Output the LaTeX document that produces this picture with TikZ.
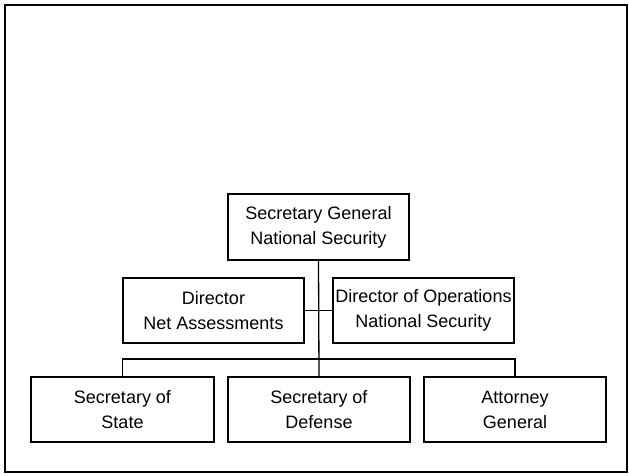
\documentclass[tikz,border=0pt]{standalone}
\usepackage{fontspec}
\setmainfont{Liberation Sans}
\begin{document}
\begin{tikzpicture}[x=1pt,y=-1pt,
  box/.style={draw=black,line width=1.2pt,minimum height=0pt,inner sep=0pt,align=center,
    font=\fontsize{18}{25}\selectfont},
  link/.style={draw=black,line width=1.3pt}]
\useasboundingbox (0,0) rectangle (629,475);
\draw[line width=2pt] (5,5) rectangle (627,472);
% boxes (drawn as rectangles with nodes inside)
\node[box,minimum width=181pt,minimum height=66pt] (sg) at (318.5,227) {Secretary General\\National Security};
\node[box,minimum width=181pt,minimum height=65pt] (dn) at (213.5,310.5) {Director\\Net Assessments};
\node[box,minimum width=181pt,minimum height=65pt] (do) at (423.5,310.5) {Director of Operations\\National Security};
\node[box,minimum width=183pt,minimum height=65pt] (ss) at (122.5,409.5) {Secretary of\\State};
\node[box,minimum width=182pt,minimum height=65pt] (sd) at (319,409.5) {Secretary of\\Defense};
\node[box,minimum width=182pt,minimum height=65pt] (ag) at (515,409.5) {Attorney\\General};
\coordinate (bus) at (319,359);
\draw[link] (sg.south) -- (sd.north);
\draw[link] (dn.east) -- (do.west);
\draw[link] (ss.north) |- (bus) -| (ag.north);
\end{tikzpicture}
\end{document}
